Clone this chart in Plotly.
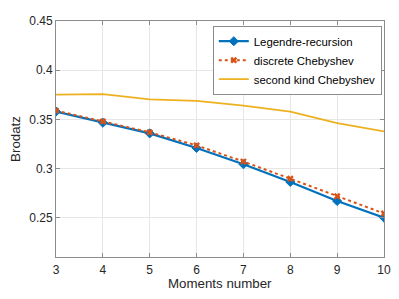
import plotly.graph_objects as go

moments = [3, 4, 5, 6, 7, 8, 9, 10]
legendre_recursion = [0.358, 0.3467, 0.3359, 0.3211, 0.3046, 0.2866, 0.2672, 0.2504]
discrete_chebyshev = [0.3590, 0.3480, 0.3370, 0.3237, 0.3073, 0.2899, 0.2721, 0.2546]
second_kind_chebyshev = [0.3753, 0.3757, 0.3704, 0.3690, 0.3640, 0.3580, 0.3462, 0.3379]
y_ticks = [0.25, 0.3, 0.35, 0.4, 0.45]

font = "Liberation Sans, Arial, Helvetica, sans-serif"
fig = go.Figure()
fig.add_trace(go.Scatter(
    x=moments, y=legendre_recursion, name="Legendre-recursion",
    mode="lines+markers",
    line=dict(color="#0072BD", width=2.2),
    marker=dict(symbol="diamond", size=7, color="#0072BD",
                line=dict(color="#0072BD", width=1)),
))
fig.add_trace(go.Scatter(
    x=moments, y=discrete_chebyshev, name="discrete Chebyshev",
    mode="lines+markers",
    line=dict(color="#D95319", width=2, dash="dot"),
    marker=dict(symbol="x", size=6, color="#D95319"),
))
fig.add_trace(go.Scatter(
    x=moments, y=second_kind_chebyshev, name="second kind Chebyshev",
    mode="lines",
    line=dict(color="#EDB120", width=1.8),
))

axis_common = dict(
    showline=True, linecolor="#8c8c8c", linewidth=1, mirror="ticks",
    ticks="inside", ticklen=4, tickcolor="#8c8c8c",
    showgrid=True, gridcolor="#e6e6e6", gridwidth=1,
    zeroline=False,
    tickfont=dict(family=font, size=12, color="#262626"),
)
# the page body has an 8px default margin; compensate so the plot area lands where the reference has it
fig.update_layout(
    width=391, height=291,
    margin=dict(l=44, r=15, t=6, b=42),
    paper_bgcolor="white", plot_bgcolor="white",
    font=dict(family=font, color="#262626"),
    xaxis=dict(range=[3, 10], tickvals=moments, ticklabelstandoff=2,
               **axis_common),
    yaxis=dict(range=[0.2104, 0.45], tickvals=y_ticks,
               title=dict(text="Brodatz", font=dict(family=font, size=13.3, color="#262626"), standoff=6),
               **axis_common),
    legend=dict(x=0.478, y=0.98, xanchor="left", yanchor="top",
                bgcolor="white", bordercolor="#8c8c8c", borderwidth=1,
                font=dict(family=font, size=11.4, color="#000000"),
                tracegroupgap=0, itemwidth=30),
    showlegend=True,
    annotations=[dict(text="Moments number", xref="paper", yref="paper",
                      x=0.5, y=0, xanchor="center", yanchor="middle",
                      yshift=-26, showarrow=False,
                      font=dict(family=font, size=13.3, color="#262626"))],
)
fig.write_html("out.html")
